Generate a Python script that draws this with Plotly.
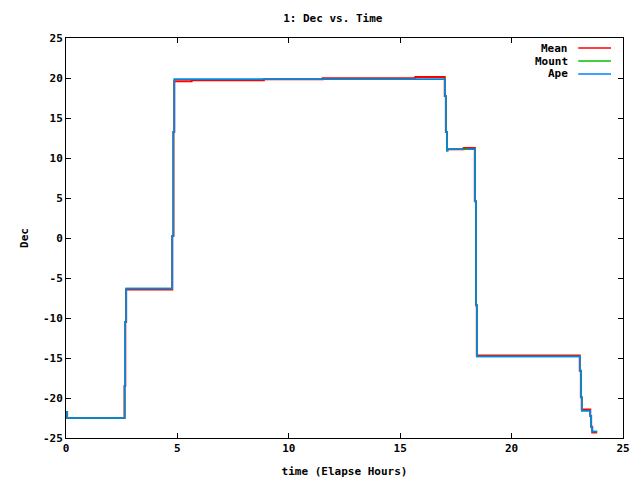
import plotly.graph_objects as go

# Data (step series: times in elapsed hours, values in degrees Dec)
ape_t = [0, 0.05, 2.63, 2.66, 2.70, 4.77, 4.82, 4.86, 17.0, 17.05, 17.1, 17.13, 17.85, 17.86,
         18.0, 18.35, 18.40, 18.44, 23.06, 23.11, 23.15, 23.53, 23.57, 23.62, 23.84]
ape_v = [-21.75, -22.5, -18.5, -10.5, -6.3, 0.25, 13.25, 19.83, 17.75, 13.25, 10.9, 11.1, 11.1, None,
         11.1, 4.6, -8.4, -14.8, -16.6, -19.9, -21.6, -22.25, -23.6, -24.2, -24.2]

mount_t = [0, 0.05, 2.63, 2.66, 2.70, 4.77, 4.82, 4.86, 17.0, 17.05, 17.1, 17.13,
           18.35, 18.40, 18.44, 23.06, 23.11, 23.15, 23.53, 23.57, 23.62, 23.84]
mount_v = [-21.75, -22.5, -18.5, -10.5, -6.3, 0.25, 13.25, 19.83, 17.75, 13.25, 10.9, 11.1,
           4.6, -8.4, -14.8, -16.6, -19.9, -21.6, -22.25, -23.6, -24.2, -24.2]

mean_t = [0, 0.05, 2.63, 2.66, 2.70, 4.77, 4.82, 4.86, 5.64, 8.88, 11.52, 15.68, 17.0,
          17.05, 17.1, 17.85, 18.35, 18.40, 18.44, 23.06, 23.11, 23.15, 23.53, 23.57, 23.62, 23.84]
mean_v = [-21.75, -22.5, -18.5, -10.5, -6.45, 0.25, 13.25, 19.6, 19.72, 19.83, 19.97, 20.12, 17.75,
          13.25, 11.1, 11.25, 4.6, -8.4, -14.7, -16.6, -19.9, -21.45, -22.25, -23.6, -24.3, -24.3]

series_names = ["Mean", "Mount", "Ape"]
series_colors = ["#ff0000", "#00c000", "#0080ff"]

x_ticks = [0, 5, 10, 15, 20, 25]
y_ticks = [-25, -20, -15, -10, -5, 0, 5, 10, 15, 20, 25]

FONT = "DejaVu Sans Mono"

fig = go.Figure()
for name, t, v, c, w in [("Mean", mean_t, mean_v, series_colors[0], 2),
                         ("Mount", mount_t, mount_v, series_colors[1], 1.5),
                         ("Ape", ape_t, ape_v, series_colors[2], 1.5)]:
    fig.add_trace(go.Scatter(x=t, y=v, mode="lines", name=name,
                             line=dict(color=c, width=w, shape="hv"),
                             connectgaps=False, showlegend=False))

# gnuplot-style key: right-aligned text followed by line sample
key_y = [0.975, 0.9425, 0.91]
for name, c, ky in zip(series_names, series_colors, key_y):
    fig.add_annotation(x=0.905, y=ky, xref="paper", yref="paper", text="<b>%s</b>" % name,
                       showarrow=False, xanchor="right", yanchor="middle",
                       font=dict(family=FONT, size=11, color="black"))
    fig.add_shape(type="line", xref="paper", yref="paper", x0=0.9196, x1=0.9785, y0=ky, y1=ky,
                  line=dict(color=c, width=1.5))

axis_common = dict(showline=True, linecolor="black", linewidth=1, mirror="allticks",
                   ticks="inside", ticklen=5, tickcolor="black", showgrid=False, zeroline=False,
                   automargin=False,
                   tickfont=dict(family=FONT, size=11, color="black"))

fig.update_layout(
    width=640, height=480,
    margin=dict(l=66, r=17, t=38, b=42),
    plot_bgcolor="white", paper_bgcolor="white",
    title=dict(text="<b>1: Dec vs. Time</b>", x=0.52, xref="container", y=0.962, yref="container",
               xanchor="center", yanchor="middle", font=dict(family=FONT, size=11, color="black")),
    xaxis=dict(range=[0, 25], tickvals=x_ticks, ticktext=["<b>%d</b>" % v for v in x_ticks],
               title=dict(text="<b>time (Elapse Hours)</b>", standoff=13,
                          font=dict(family=FONT, size=11, color="black")),
               **axis_common),
    yaxis=dict(range=[-25, 25], tickvals=y_ticks, ticktext=["<b>%d</b>" % v for v in y_ticks],
               title=dict(text="<b>Dec</b>", standoff=12,
                          font=dict(family=FONT, size=11, color="black")),
               **axis_common),
)

fig.write_html("out.html")
